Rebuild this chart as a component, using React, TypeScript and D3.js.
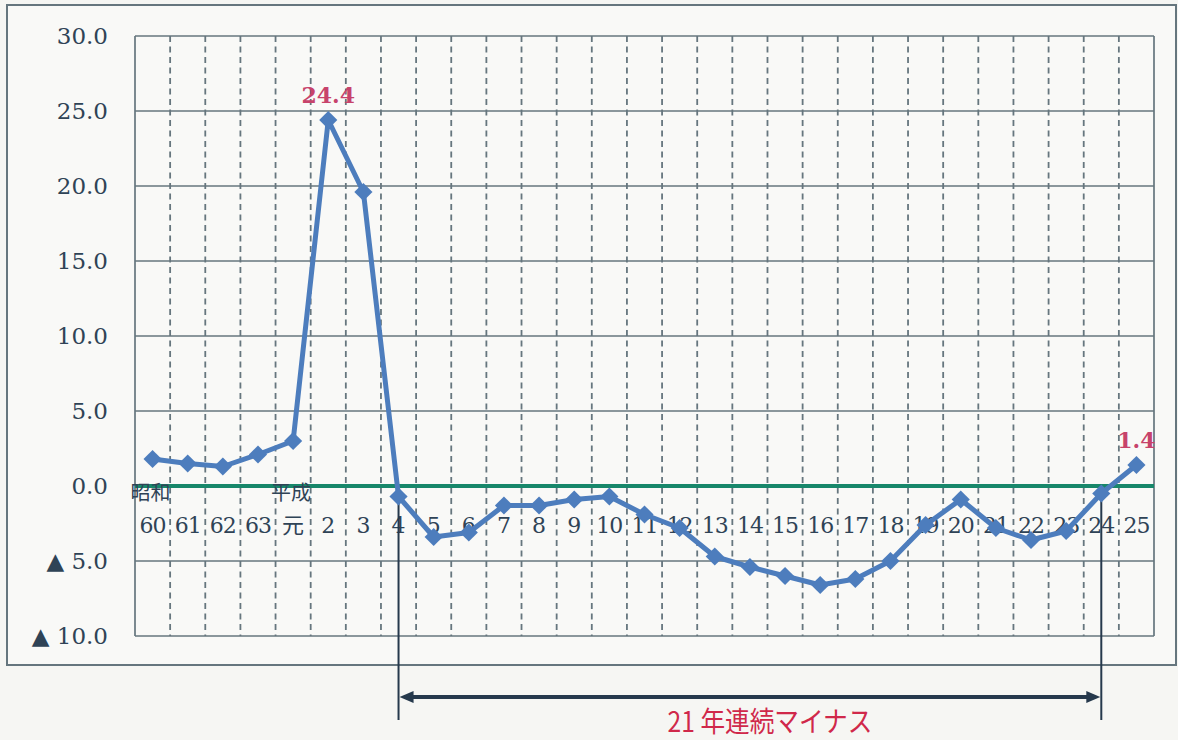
import { useEffect } from 'react';
import * as d3 from 'd3';

// 年度ラベル（昭和60年〜平成25年）
const categories = ['60', '61', '62', '63', '元', '2', '3', '4', '5', '6', '7', '8', '9', '10', '11', '12', '13', '14', '15', '16', '17', '18', '19', '20', '21', '22', '23', '24', '25'];
// 前年比 (%)
const values = [1.8, 1.5, 1.3, 2.1, 3.0, 24.4, 19.6, -0.7, -3.4, -3.1, -1.3, -1.3, -0.9, -0.7, -1.9, -2.8, -4.7, -5.4, -6.0, -6.6, -6.2, -5.0, -2.6, -0.9, -2.8, -3.6, -3.0, -0.5, 1.4];
const yTicks = [30, 25, 20, 15, 10, 5, 0, -5, -10];
const eraLabels = [{ cat: '60', text: '昭和' }, { cat: '元', text: '平成' }];
const highlighted = ['2', '25'];
const spanFrom = '4';
const spanTo = '24';
const spanLabel = '21 年連続マイナス';

const W = 1178;
const H = 740;
const margin = { left: 135, right: 24, top: 36, bottom: 104 };

const textColor = '#2f4356';
const gridColor = '#66767e';
const lineColor = '#4d7dbd';
const labelRed = '#c7436b';

export default function App() {
  useEffect(() => {
    document.body.style.margin = '0';
  }, []);

  const x = d3.scaleBand<string>()
    .domain(categories)
    .range([margin.left, W - margin.right])
    .padding(0);
  const y = d3.scaleLinear()
    .domain([-10, 30])
    .range([H - margin.bottom, margin.top]);

  const cx = (c: string) => (x(c) as number) + x.bandwidth() / 2;
  const pts = categories.map((c, i) => ({ c, v: values[i] }));

  const line = d3.line<{ c: string; v: number }>()
    .x(d => cx(d.c))
    .y(d => y(d.v));

  const marker = d3.symbol().type(d3.symbolSquare).size(165)();

  const x0 = margin.left;
  const x1 = W - margin.right;
  const yTop = y(30);
  const yBot = y(-10);

  const arrowY = 697;
  const spanBottom = 720;
  const ax0 = cx(spanFrom);
  const ax1 = cx(spanTo);
  const arrowColor = '#26394c';
  const labelX = (ax0 + ax1) / 2 + 20;
  const labelY = 722;

  const fmt = (v: number) => (v < 0 ? `▲ ${Math.abs(v).toFixed(1)}` : v.toFixed(1));

  return (
    <div style={{ position: 'absolute', left: 0, top: 0 }}>
      <svg width={W} height={H} style={{ display: 'block', background: '#f6f6f3' }}>
        {/* outer frame */}
        <rect x={7} y={5} width={1169} height={660} fill="#f9f9f7" stroke={gridColor} strokeWidth={2} />

        {/* dashed vertical grid at band boundaries */}
        {categories.slice(1).map(c => (
          <line key={'v' + c} x1={x(c)} x2={x(c)} y1={yTop} y2={yBot}
            stroke={gridColor} strokeWidth={1.8} strokeDasharray="6,4.5" />
        ))}

        {/* horizontal grid */}
        {yTicks.filter(t => t !== 0).map(t => (
          <line key={'h' + t} x1={x0} x2={x1} y1={y(t)} y2={y(t)} stroke={gridColor} strokeWidth={1.7} />
        ))}
        <line x1={x0} x2={x0} y1={yTop} y2={yBot} stroke={gridColor} strokeWidth={1.7} />
        <line x1={x1} x2={x1} y1={yTop} y2={yBot} stroke={gridColor} strokeWidth={1.7} />

        {/* zero line */}
        <line x1={x0} x2={x1} y1={y(0)} y2={y(0)} stroke="#17876a" strokeWidth={4} />

        {/* y tick labels */}
        {yTicks.map(t => (
          <text key={'t' + t} x={108} y={y(t)} dy="0.36em" textAnchor="end"
            fontFamily="DejaVu Serif" fontSize={23} fill={textColor}>{fmt(t)}</text>
        ))}

        {/* era labels */}
        {eraLabels.map(e => (
          <text key={e.text} x={cx(e.cat) - 2} y={493} dy="0.36em" textAnchor="middle"
            fontFamily="Noto Sans CJK JP" fontSize={20} fill={textColor}>{e.text}</text>
        ))}

        {/* x tick labels */}
        {categories.map(c => (
          <text key={'x' + c} x={cx(c)} y={525} dy="0.36em" textAnchor="middle"
            fontFamily={c === '元' ? 'Noto Sans CJK JP' : 'DejaVu Serif'} fontSize={22}
            letterSpacing={c.length > 1 ? -1 : 0} fill={textColor}>{c}</text>
        ))}

        {/* span annotation */}
        <line x1={ax0} x2={ax0} y1={y(values[categories.indexOf(spanFrom)])} y2={spanBottom} stroke={arrowColor} strokeWidth={2} />
        <line x1={ax1} x2={ax1} y1={y(values[categories.indexOf(spanTo)])} y2={spanBottom} stroke={arrowColor} strokeWidth={2} />
        <line x1={ax0 + 10} x2={ax1 - 10} y1={arrowY} y2={arrowY} stroke={arrowColor} strokeWidth={4} />
        <path d={`M${ax0 + 1},${arrowY} L${ax0 + 15},${arrowY - 6} L${ax0 + 15},${arrowY + 6} Z`} fill={arrowColor} />
        <path d={`M${ax1 - 1},${arrowY} L${ax1 - 15},${arrowY - 6} L${ax1 - 15},${arrowY + 6} Z`} fill={arrowColor} />
        <text x={labelX} y={labelY} dy="0.36em" textAnchor="middle"
          fontFamily="Noto Sans CJK JP" fontSize={28} fill="#d0284a"
          transform={`translate(${labelX},${labelY}) scale(0.88,1) translate(${-labelX},${-labelY})`}>{spanLabel}</text>

        {/* series */}
        <path d={line(pts) as string} fill="none" stroke={lineColor} strokeWidth={5} strokeLinejoin="round" />
        {pts.map(p => (
          <path key={'m' + p.c} d={marker as string}
            transform={`translate(${cx(p.c)},${y(p.v)}) rotate(45)`} fill={lineColor} />
        ))}

        {/* value labels */}
        {pts.filter(p => highlighted.includes(p.c)).map(p => (
          <text key={'l' + p.c} x={cx(p.c)} y={y(p.v) - 17} textAnchor="middle"
            fontFamily="DejaVu Serif" fontWeight="bold" fontSize={22} fill={labelRed}>{p.v.toFixed(1)}</text>
        ))}
      </svg>
    </div>
  );
}
